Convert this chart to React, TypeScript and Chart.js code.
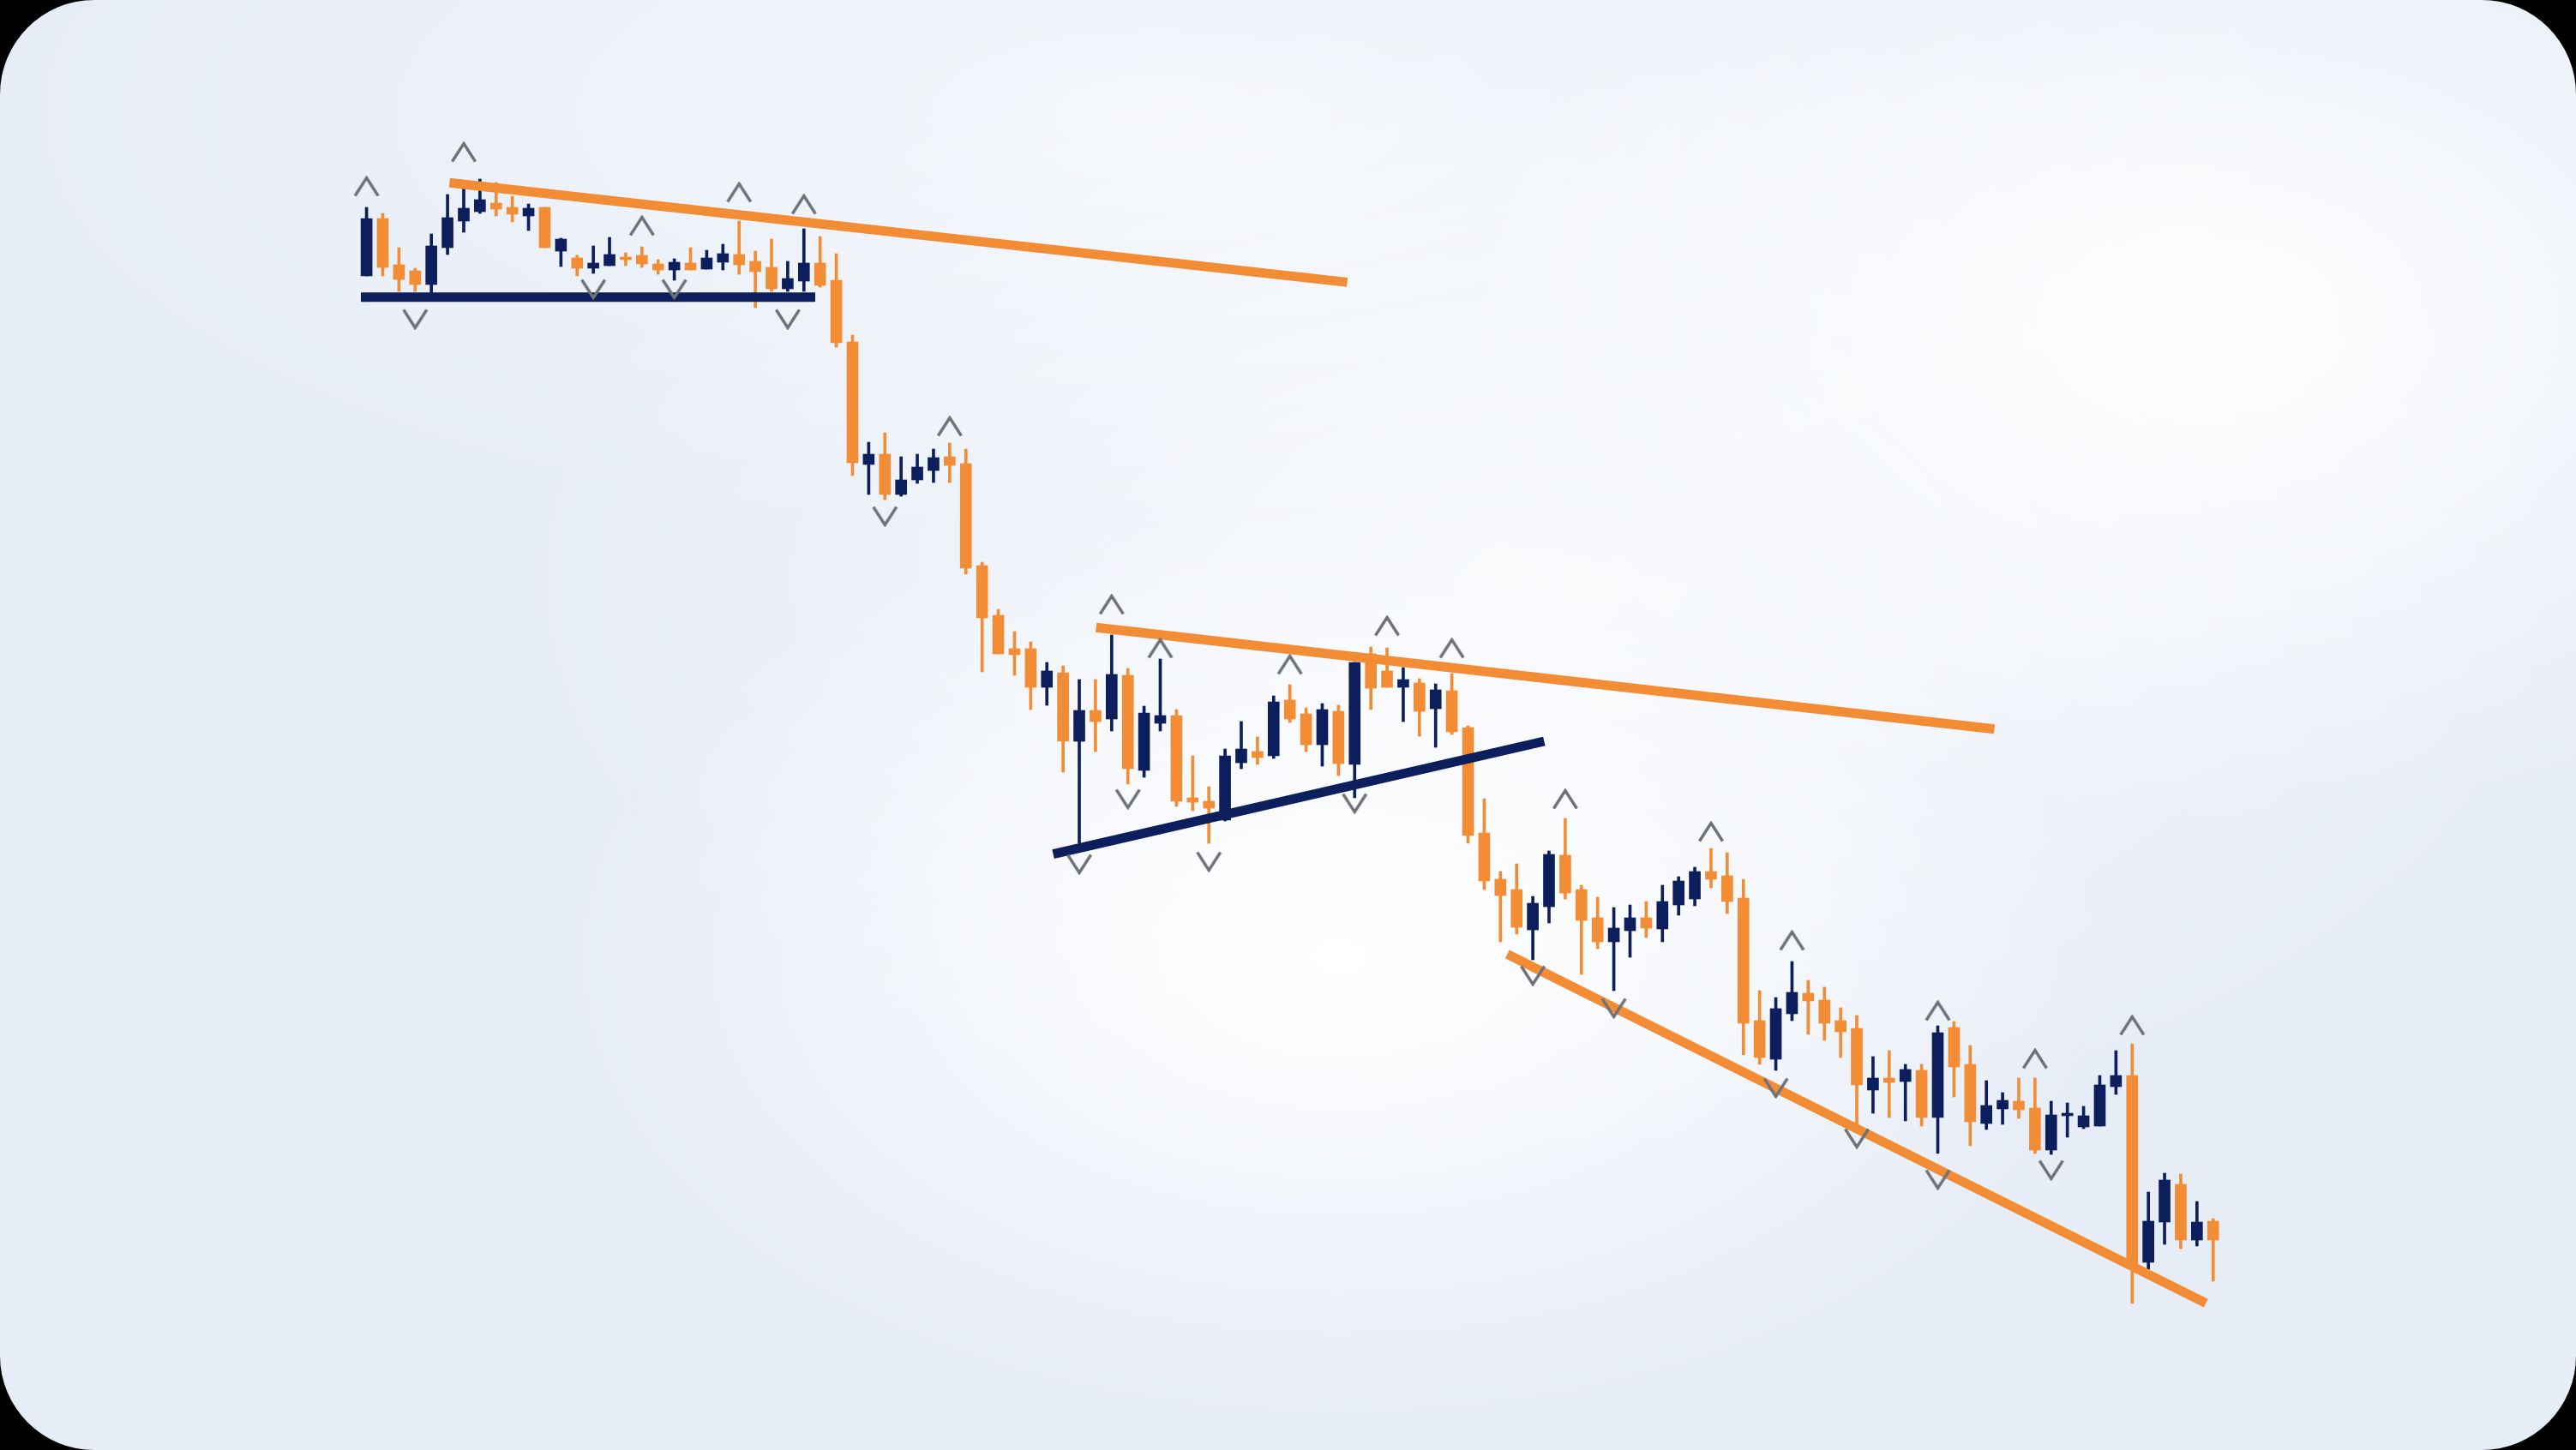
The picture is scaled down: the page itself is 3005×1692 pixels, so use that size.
import React, { useEffect, useRef } from "react";
import { Chart, registerables } from "chart.js";

Chart.register(...registerables);

// ---- candle data (session index 1..115) ----
const opens = [
  127.8, 134.5, 129.1, 128.4, 126.8, 131.1, 134.2, 135.3, 136.3, 135.8,
  134.8, 135.8, 130.7, 129.9, 128.7, 129.0, 130.0, 130.2, 129.2, 128.5,
  129.3, 128.6, 129.4, 130.3, 129.5, 128.8, 126.3, 127.2, 129.3, 127.3,
  120.1, 105.8, 107.0, 102.3, 104.0, 105.1, 106.7, 105.9, 94.0, 88.2,
  84.3, 84.3, 79.8, 81.5, 73.5, 77.1, 76.1, 81.2, 70.1, 75.6,
  76.5, 66.9, 66.5, 64.3, 71.0, 72.3, 71.8, 78.3, 76.7, 73.1,
  77.0, 70.8, 83.7, 81.7, 79.8, 80.3, 77.3, 79.4, 75.1, 62.8,
  57.4, 56.2, 51.5, 54.2, 60.2, 56.2, 52.9, 50.1, 51.4, 52.9,
  51.6, 54.4, 55.1, 58.3, 57.8, 55.2, 40.9, 36.4, 41.7, 44.1,
  43.3, 40.9, 40.0, 32.8, 34.2, 33.8, 35.1, 29.6, 40.1, 35.8,
  28.9, 30.6, 31.5, 30.7, 25.8, 29.8, 28.5, 28.6, 33.2, 34.5,
  12.7, 17.4, 21.8, 15.3, 17.5,
];
const highs = [
  135.8, 135.1, 131.1, 128.7, 132.7, 137.3, 138.0, 139.1, 138.7, 137.1,
  136.2, 135.8, 132.2, 130.2, 131.3, 132.3, 130.5, 131.2, 129.7, 129.8,
  131.1, 130.8, 131.5, 134.2, 130.7, 132.1, 129.5, 133.3, 132.4, 130.4,
  120.9, 108.4, 109.5, 106.7, 107.0, 107.6, 108.3, 107.6, 94.4, 88.9,
  86.3, 85.1, 82.7, 82.3, 80.7, 80.7, 85.9, 82.0, 77.6, 83.1,
  77.2, 71.8, 68.2, 72.6, 75.8, 74.0, 78.8, 80.1, 77.4, 77.9,
  77.7, 82.7, 84.5, 84.4, 82.1, 80.8, 80.2, 81.4, 75.3, 66.8,
  58.3, 59.2, 55.4, 60.7, 64.5, 56.7, 55.3, 54.1, 54.4, 54.8,
  56.7, 57.7, 58.8, 61.0, 60.5, 57.4, 44.4, 43.6, 47.8, 45.6,
  44.8, 42.4, 41.5, 36.7, 37.4, 35.8, 35.8, 40.3, 40.8, 38.0,
  33.9, 32.5, 34.2, 34.2, 31.5, 31.3, 30.9, 34.5, 37.4, 38.2,
  20.9, 23.1, 23.0, 19.8, 17.8,
];
const lows = [
  127.8, 127.8, 126.0, 126.0, 125.8, 130.3, 132.9, 135.1, 134.8, 134.1,
  133.1, 131.1, 128.9, 127.8, 128.1, 129.0, 129.0, 128.8, 128.0, 127.3,
  128.5, 128.6, 128.5, 128.0, 124.1, 126.0, 126.0, 126.0, 126.5, 119.5,
  104.5, 102.3, 101.7, 102.1, 103.6, 103.7, 103.7, 93.0, 81.6, 83.7,
  81.2, 77.2, 77.7, 69.9, 61.6, 72.3, 74.7, 68.5, 69.3, 74.7,
  65.9, 65.4, 61.6, 64.2, 70.3, 70.8, 71.5, 75.7, 72.3, 70.6,
  69.5, 66.9, 77.2, 79.8, 75.8, 74.1, 72.8, 74.3, 61.6, 56.2,
  50.1, 51.0, 48.0, 52.3, 55.1, 46.3, 49.3, 44.4, 48.3, 50.6,
  50.1, 53.2, 54.3, 56.4, 53.4, 36.9, 35.8, 35.1, 40.9, 39.3,
  38.6, 36.6, 28.7, 30.1, 29.6, 29.2, 28.6, 25.4, 32.0, 26.3,
  28.2, 28.8, 29.5, 25.4, 25.3, 27.3, 28.3, 28.6, 32.3, 7.9,
  11.9, 14.8, 14.3, 14.6, 10.5,
];
const closes = [
  134.5, 128.8, 127.4, 126.8, 131.3, 134.6, 135.7, 136.7, 135.6, 135.0,
  135.7, 131.1, 132.1, 128.7, 129.3, 130.3, 129.7, 129.2, 128.5, 129.4,
  128.5, 129.9, 130.4, 129.1, 128.3, 126.3, 127.5, 129.3, 126.7, 120.0,
  106.0, 107.0, 102.3, 104.0, 105.5, 106.6, 105.7, 93.7, 87.9, 83.7,
  83.6, 79.8, 81.7, 73.5, 77.1, 75.8, 81.3, 70.3, 76.8, 76.5,
  66.5, 66.4, 65.7, 71.8, 72.6, 71.6, 78.1, 76.1, 73.1, 77.2,
  70.9, 82.7, 79.7, 79.8, 80.7, 77.0, 79.5, 74.6, 62.5, 57.2,
  55.5, 51.8, 54.6, 60.3, 55.8, 52.6, 50.1, 51.7, 52.9, 51.7,
  54.8, 57.2, 58.3, 57.4, 54.8, 40.6, 36.6, 42.3, 44.2, 43.2,
  40.6, 39.6, 33.4, 34.2, 33.7, 35.2, 29.6, 39.5, 35.5, 29.1,
  31.0, 31.6, 30.5, 25.8, 29.9, 30.1, 29.8, 33.4, 34.5, 12.5,
  17.5, 22.3, 15.3, 17.4, 15.3,
];

// ---- swing markers ----
const peakIdx = [1, 7, 18, 24, 28, 37, 47, 50, 58, 64, 68, 75, 84, 89, 98, 104, 110];
const peakVal = [138.2, 142.2, 133.6, 137.5, 136.1, 110.2, 89.4, 84.3, 82.4, 86.9, 84.3, 66.7, 62.9, 50.2, 42.0, 36.4, 40.3];
const troughIdx = [4, 15, 20, 27, 33, 45, 48, 53, 62, 73, 78, 88, 93, 98, 105];
const troughVal = [122.8, 126.3, 126.3, 122.8, 99.8, 59.2, 66.8, 59.5, 66.3, 46.2, 42.4, 33.1, 27.2, 22.4, 23.5];

// ---- trend lines: [startIdx, startVal, endIdx, endVal] ----
const resistance1 = [6.12, 138.67, 61.54, 127.06];
const support1 = [0.65, 125.33, 28.7, 125.33];
const resistance2 = [46.04, 86.77, 101.49, 74.93];
const support2 = [43.39, 60.33, 73.7, 73.5];
const support3 = [71.42, 48.67, 114.55, 7.93];

const ORANGE = "#F28D35";
const NAVY = "#0C1F5C";
const MARK = "#6E7277";

function chevron(up: boolean): HTMLCanvasElement {
  const c = document.createElement("canvas");
  c.width = 32;
  c.height = 26;
  const g = c.getContext("2d")!;
  g.strokeStyle = MARK;
  g.lineWidth = 3.4;
  g.lineJoin = "miter";
  g.lineCap = "butt";
  g.beginPath();
  if (up) {
    g.moveTo(2.5, 23.5);
    g.lineTo(16, 2.5);
    g.lineTo(29.5, 23.5);
  } else {
    g.moveTo(2.5, 2.5);
    g.lineTo(16, 23.5);
    g.lineTo(29.5, 2.5);
  }
  g.stroke();
  return c;
}

function lineDs(seg: number[], color: string) {
  return {
    type: "line" as const,
    data: [
      { x: seg[0], y: seg[1] },
      { x: seg[2], y: seg[3] },
    ],
    borderColor: color,
    borderWidth: 11,
    borderCapStyle: "butt" as const,
    pointRadius: 0,
    tension: 0,
    fill: false,
    order: 1,
  };
}

export default function App() {
  const ref = useRef<HTMLCanvasElement>(null);

  useEffect(() => {
    const idx = opens.map((_, i) => i + 1);
    const colors = idx.map((_, i) => (closes[i] >= opens[i] ? NAVY : ORANGE));
    const chart = new Chart(ref.current!, {
      type: "bar",
      data: {
        datasets: [
          {
            type: "line",
            data: peakIdx.map((x, i) => ({ x, y: peakVal[i] })),
            showLine: false,
            pointStyle: chevron(true) as any,
            pointRadius: 13,
            order: 0,
          } as any,
          {
            type: "line",
            data: troughIdx.map((x, i) => ({ x, y: troughVal[i] })),
            showLine: false,
            pointStyle: chevron(false) as any,
            pointRadius: 13,
            order: 0,
          } as any,
          lineDs(resistance1, ORANGE) as any,
          lineDs(support1, NAVY) as any,
          lineDs(resistance2, ORANGE) as any,
          lineDs(support2, NAVY) as any,
          lineDs(support3, ORANGE) as any,
          {
            type: "bar",
            data: idx.map((x, i) => ({
              x,
              y: [Math.min(opens[i], closes[i]), Math.max(opens[i], closes[i])],
            })),
            backgroundColor: colors,
            barThickness: 13,
            grouped: false,
            borderWidth: 0,
            minBarLength: 2,
            order: 2,
          } as any,
          {
            type: "bar",
            data: idx.map((x, i) => ({ x, y: [lows[i], highs[i]] })),
            backgroundColor: colors,
            barThickness: 3,
            grouped: false,
            borderWidth: 0,
            order: 3,
          } as any,
        ],
      },
      options: {
        animation: false,
        responsive: false,
        devicePixelRatio: 1,
        events: [],
        layout: { padding: 0, autoPadding: false },
        plugins: { legend: { display: false }, tooltip: { enabled: false } },
        scales: {
          x: { type: "linear", min: -21.629, max: 137.4, display: false, offset: false },
          y: { type: "linear", min: -9.2, max: 160, display: false },
        },
      } as any,
    });
    return () => chart.destroy();
  }, []);

  return (
    <div
      style={{
        position: "fixed",
        left: 0,
        top: 0,
        width: 3005,
        height: 1692,
        background: "#000",
        overflow: "hidden",
      }}
    >
      <div
        style={{
          position: "absolute",
          inset: 0,
          borderRadius: 110,
          background:
            "radial-gradient(ellipse 30% 32% at 52% 66%, rgba(255,255,255,1), rgba(255,255,255,0)), " +
            "radial-gradient(ellipse 30% 35% at 86% 22%, rgba(255,255,255,0.95), rgba(255,255,255,0)), " +
            "radial-gradient(ellipse 45% 30% at 45% 8%, rgba(255,255,255,0.55), rgba(255,255,255,0)), " +
            "radial-gradient(ellipse 40% 40% at 60% 40%, rgba(255,255,255,0.7), rgba(255,255,255,0)), " +
            "#e7edf7",
        }}
      />
      <canvas
        ref={ref}
        width={3005}
        height={1692}
        style={{ position: "absolute", left: 0, top: 0, width: 3005, height: 1692 }}
      />
    </div>
  );
}
